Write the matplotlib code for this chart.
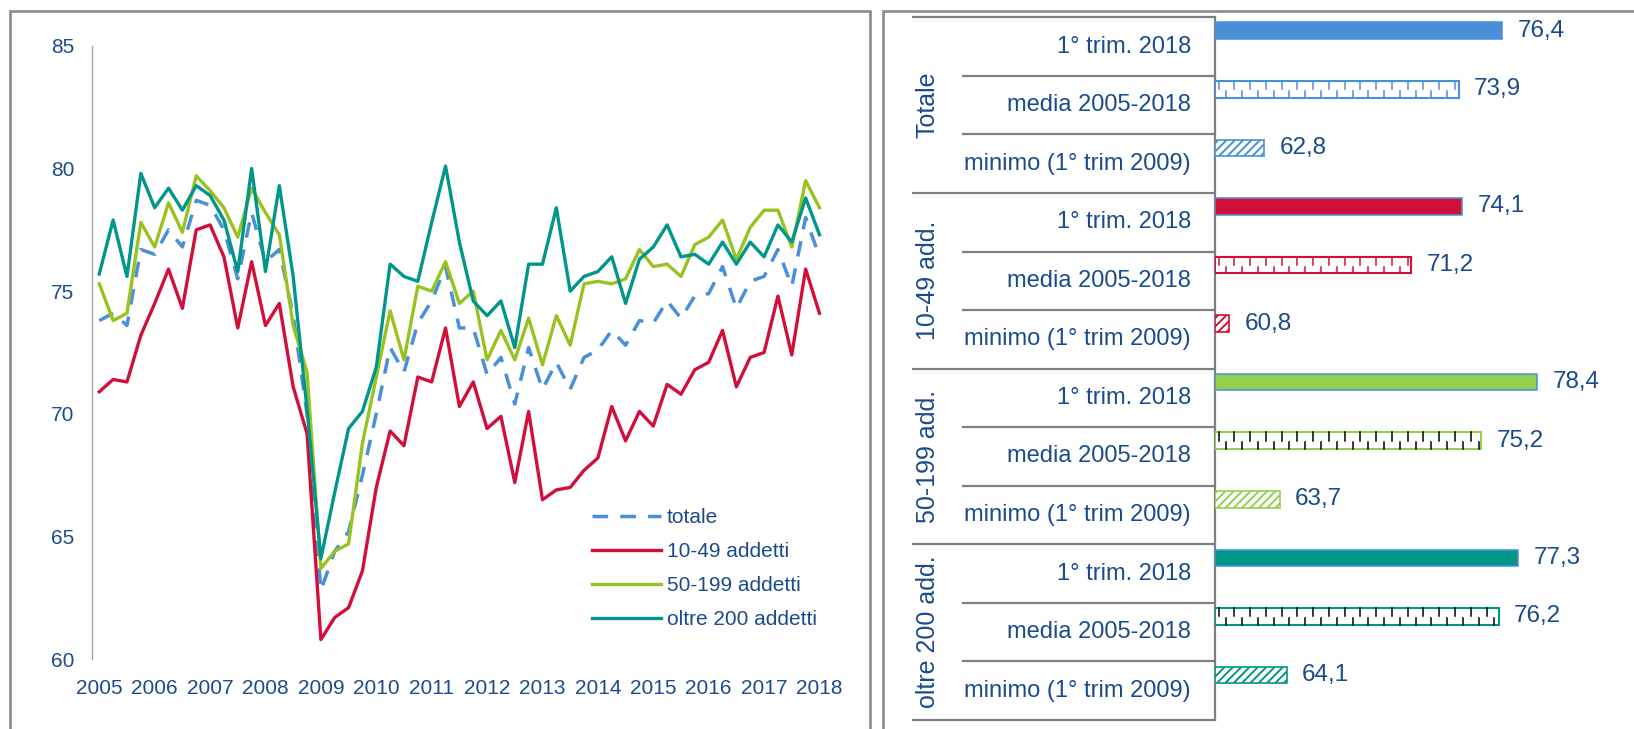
import numpy as np
import matplotlib
matplotlib.use('Agg')
import matplotlib.pyplot as plt
from matplotlib.patches import Rectangle

plt.rcParams['font.family'] = ['Liberation Sans', 'DejaVu Sans']
plt.rcParams['hatch.linewidth'] = 1.4

# dati trimestrali 2005Q1 - 2018Q1 (53 trimestri)
anni = list(range(2005, 2019))

totale = [73.8, 74.1, 73.6, 76.7, 76.5, 77.5, 76.8, 78.7, 78.5, 77.5, 75.5, 78.2, 76.2,
          76.7, 74.0, 70.0, 62.8, 64.4, 65.2, 67.5, 70.0, 72.7, 71.7, 73.7, 74.6, 76.0,
          73.5, 73.5, 71.6, 72.3, 70.4, 72.7, 71.0, 72.1, 71.0, 72.3, 72.6, 73.4, 72.8,
          73.8, 73.7, 74.6, 73.9, 74.8, 74.9, 76.0, 74.3, 75.4, 75.6, 76.7, 75.2, 78.0, 76.4]

add_10_49 = [70.9, 71.4, 71.3, 73.2, 74.5, 75.9, 74.3, 77.5, 77.7, 76.4, 73.5, 76.2, 73.6,
             74.5, 71.1, 69.2, 60.8, 61.7, 62.1, 63.6, 67.0, 69.3, 68.7, 71.5, 71.3, 73.5,
             70.3, 71.3, 69.4, 69.9, 67.2, 70.1, 66.5, 66.9, 67.0, 67.7, 68.2, 70.3, 68.9,
             70.1, 69.5, 71.2, 70.8, 71.8, 72.1, 73.4, 71.1, 72.3, 72.5, 74.8, 72.4, 75.9, 74.1]

add_50_199 = [75.3, 73.8, 74.1, 77.8, 76.8, 78.6, 77.4, 79.7, 79.1, 78.4, 77.2, 79.2, 78.2,
              77.3, 73.6, 71.7, 63.7, 64.4, 64.7, 68.8, 71.5, 74.2, 72.2, 75.2, 75.0, 76.2,
              74.5, 75.0, 72.2, 73.4, 72.2, 73.9, 72.0, 74.0, 72.8, 75.3, 75.4, 75.3, 75.5,
              76.7, 76.0, 76.1, 75.6, 76.9, 77.2, 77.9, 76.3, 77.6, 78.3, 78.3, 76.8, 79.5, 78.4]

oltre_200 = [75.7, 77.9, 75.6, 79.8, 78.4, 79.2, 78.3, 79.3, 78.9, 77.9, 75.8, 80.0, 75.8,
             79.3, 75.6, 70.2, 64.1, 66.8, 69.4, 70.1, 71.9, 76.1, 75.6, 75.4, 77.8, 80.1,
             77.0, 74.6, 74.0, 74.6, 72.7, 76.1, 76.1, 78.4, 75.0, 75.6, 75.8, 76.4, 74.5,
             76.3, 76.8, 77.7, 76.4, 76.5, 76.1, 77.0, 76.1, 77.0, 76.4, 77.7, 77.0, 78.8, 77.3]

serie_nomi = ['totale', '10-49 addetti', '50-199 addetti', 'oltre 200 addetti']

# pannello destro
gruppi = ['Totale', '10-49 add.', '50-199 add.', 'oltre 200 add.']
voci = ['1° trim. 2018', 'media 2005-2018', 'minimo (1° trim 2009)']
trim_2018 = [76.4, 74.1, 78.4, 77.3]
media = [73.9, 71.2, 75.2, 76.2]
minimo = [62.8, 60.8, 63.7, 64.1]

blu_testo = '#1B4B8C'
col_linee = ['#4A90D9', '#D0103A', '#98C21F', '#00968A']
col_barre = ['#4A90D9', '#D0103A', '#92D050', '#009688']
col_trattini = ['#4A90D9', '#D0103A', 'black', 'black']
grigio = '#8C8C8C'

W, H = 1634, 729
fig = plt.figure(figsize=(W / 100, H / 100), dpi=100)

# cornici dei due pannelli
fig.add_artist(Rectangle((10 / W, -0.1), 859.5 / W, 1.1 - 11 / H, transform=fig.transFigure,
                         fill=False, ec=grigio, lw=1.9))
fig.add_artist(Rectangle((883.3 / W, -0.1), 0.5, 1.1 - 11 / H, transform=fig.transFigure,
                         fill=False, ec=grigio, lw=1.9))

# ---- grafico a linee ----
ax1 = fig.add_axes([92.35 / W, (H - 659.2) / H, 734.05 / W, 613.4 / H])
x = np.arange(len(totale))
ax1.plot(x, totale, color=col_linee[0], lw=2.5, dashes=(4.5, 3.5), label=serie_nomi[0])
ax1.plot(x, add_10_49, color=col_linee[1], lw=2.4, label=serie_nomi[1])
ax1.plot(x, add_50_199, color=col_linee[2], lw=2.4, label=serie_nomi[2])
ax1.plot(x, oltre_200, color=col_linee[3], lw=2.4, label=serie_nomi[3])

ax1.set_xlim(-0.5, len(totale) - 0.5)
ax1.set_ylim(60, 85)
ax1.set_yticks(range(60, 86, 5))
ax1.set_xticks(range(0, len(totale), 4))
ax1.set_xticklabels([str(a) for a in anni])
ax1.tick_params(length=0, labelsize=15, labelcolor=blu_testo)
ax1.tick_params(axis='x', pad=14)
ax1.tick_params(axis='y', pad=13)
for s in ['top', 'right', 'bottom']:
    ax1.spines[s].set_visible(False)
ax1.spines['left'].set_color('#A6A6A6')
ax1.spines['left'].set_linewidth(1.0)

ax1.legend(loc='upper left', bbox_to_anchor=(592 / W, (H - 508) / H), bbox_transform=fig.transFigure,
           frameon=False, fontsize=15, handlelength=3.3, handletextpad=0.3, labelspacing=0.72,
           borderpad=0, borderaxespad=0, labelcolor=blu_testo)

# ---- tabella delle etichette ----
bottom = (H - 720) / H
height = 702.7 / H
tab = fig.add_axes([912.7 / W, bottom, (1215 - 912.7) / W, height])
tab.set_xlim(0, 1)
tab.set_ylim(11.5, -0.5)
tab.axis('off')
col_linea = '#808080'
for k in range(len(gruppi) + 1):
    tab.plot([0, 1], [k * 3 - 0.5] * 2, color=col_linea, lw=1.6, clip_on=False)
for k in range(len(gruppi)):
    for r in (0.5, 1.5):
        tab.plot([0.165, 1], [k * 3 + r] * 2, color=col_linea, lw=1.6, clip_on=False)
tab.plot([1, 1], [-0.5, 11.5], color=col_linea, lw=1.6, clip_on=False)

for k, g in enumerate(gruppi):
    tab.text(0.05, k * 3 + 1, g, rotation=90, ha='center', va='center',
             fontsize=18, color=blu_testo)
    for r, v in enumerate(voci):
        tab.text(1 - 24 / 302.3, k * 3 + r, v, ha='right', va='center',
                 fontsize=17, color=blu_testo)

# ---- barre ----
ax2 = fig.add_axes([1215 / W, bottom, 385.4 / W, height])
base = 60
ax2.set_xlim(base, 82)
ax2.set_ylim(11.5, -0.5)
ax2.axis('off')
h = 0.283
off = 0.27

for k in range(len(gruppi)):
    y0 = k * 3 - off
    ax2.barh(y0, trim_2018[k] - base, left=base, height=h, color=col_barre[k],
             edgecolor='#4A90D9', lw=1.1)

    y1 = k * 3 + 1 - off
    ax2.barh(y1, media[k] - base, left=base, height=h, color='white',
             edgecolor=col_barre[k], lw=1.5)
    # trattini verticali del motivo
    xs = np.arange(base + 0.2, media[k] - 0.1, 0.45)
    top = y1 - h / 2
    for j, xx in enumerate(xs):
        if j % 2 == 0:
            ax2.plot([xx, xx], [top, top + h * 0.5], color=col_trattini[k], lw=1.1)
        else:
            ax2.plot([xx, xx], [top + h * 0.6, top + h], color=col_trattini[k], lw=1.1)

    y2 = k * 3 + 2 - off
    ax2.barh(y2, minimo[k] - base, left=base, height=h, color='white',
             edgecolor=col_barre[k], hatch='////', lw=1.2)

    for yy, v in ((y0, trim_2018[k]), (y1, media[k]), (y2, minimo[k])):
        ax2.annotate(f'{v:.1f}'.replace('.', ','), (v, yy), xytext=(11, 0),
                     textcoords='offset points', ha='left', va='center',
                     fontsize=17.5, color=blu_testo, annotation_clip=False)

fig.savefig('out.png', dpi=100, facecolor='white')
